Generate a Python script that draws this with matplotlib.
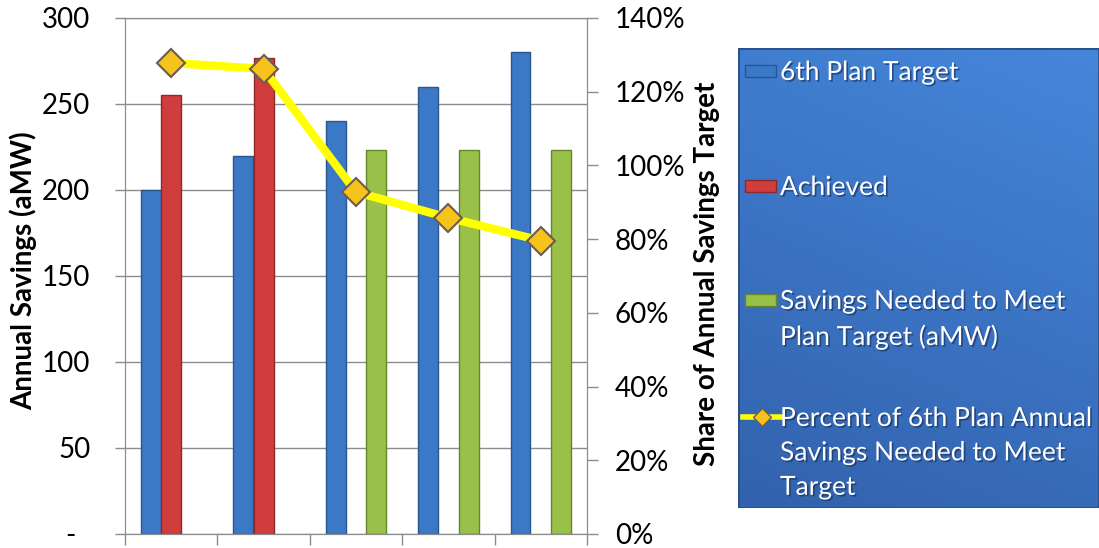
import matplotlib

matplotlib.use("Agg")

import matplotlib.pyplot as plt
import numpy as np
import matplotlib.patheffects as pe
from matplotlib.colors import LinearSegmentedColormap
from matplotlib.lines import Line2D
from matplotlib.patches import Rectangle
from matplotlib.ticker import FuncFormatter, MultipleLocator, PercentFormatter

plt.rcParams["font.family"] = ["Lato", "DejaVu Sans"]

# data
plan_target = [200, 220, 240, 260, 280]
achieved = [255, 277, np.nan, np.nan, np.nan]
needed = [np.nan, np.nan, 223, 223, 223]
pct_needed = [1.278, 1.262, 0.928, 0.858, 0.796]

series_labels = [
    "6th Plan Target",
    "Achieved",
    "Savings Needed to Meet\nPlan Target (aMW)",
    "Percent of 6th Plan Annual\nSavings Needed to Meet\nTarget",
]

BLUE, BLUE_EDGE = "#3b78c6", "#2a568f"
RED, RED_EDGE = "#cf3d3d", "#8c2a2a"
GREEN, GREEN_EDGE = "#99c14a", "#66862e"
GRID = "#8c8c8c"

W, H = 1099, 548
fig = plt.figure(figsize=(W / 100, H / 100), dpi=100)
ax = fig.add_axes([125 / W, 14 / H, 462 / W, 516 / H])

x = np.arange(len(plan_target))
bw = 0.215
ax.bar(x - 0.22, plan_target, bw, color=BLUE, edgecolor=BLUE_EDGE, lw=1, zorder=2)
ax.bar(x, achieved, bw, color=RED, edgecolor=RED_EDGE, lw=1, zorder=2)
ax.bar(x + 0.22, needed, bw, color=GREEN, edgecolor=GREEN_EDGE, lw=1, zorder=2)

ax.set_xlim(-0.5, len(x) - 0.5)
ax.set_ylim(0, 300)
ax.yaxis.set_major_locator(MultipleLocator(50))
ax.yaxis.set_major_formatter(FuncFormatter(lambda v, _: "-  " if v == 0 else f"{v:.0f}"))
ax.grid(axis="y", color=GRID, lw=1)
ax.set_axisbelow(True)
ax.set_xticks(np.arange(-0.5, len(x)), labels=[])
ax.tick_params(axis="x", length=8, color=GRID, width=1)
ax.tick_params(axis="y", length=7, color=GRID, width=1, labelsize=20, pad=18)
for side in ("left", "right", "bottom", "top"):
    ax.spines[side].set_color(GRID)
ax.set_ylabel("Annual Savings (aMW)", fontsize=20, fontweight="bold")
ax.yaxis.set_label_coords(-0.19, 0.51)

ax2 = ax.twinx()
ax2.plot(x, pct_needed, color="#ffff00", lw=6, marker="D", markersize=14,
         markerfacecolor="#f6c21c", markeredgecolor="#6e5c52", markeredgewidth=1.5,
         zorder=3)
ax2.set_ylim(0, 1.4)
ax2.yaxis.set_major_locator(MultipleLocator(0.2))
ax2.yaxis.set_major_formatter(PercentFormatter(1.0, decimals=0))
ax2.tick_params(axis="y", length=8, color=GRID, width=1, labelsize=20, pad=12)
for side in ("left", "right", "bottom", "top"):
    ax2.spines[side].set_color(GRID)
ax2.set_ylabel("Share of Annual Savings Target", fontsize=20, fontweight="bold")
ax2.yaxis.set_label_coords(1.232, 0.505)

# legend box with a blue gradient
lax = fig.add_axes([738 / W, 40 / H, 361 / W, 460 / H])
lax.set_xlim(0, 361)
lax.set_ylim(460, 0)
lax.axis("off")
gx, gy = np.meshgrid(np.linspace(0, 1, 60), np.linspace(0, 1, 60))
grad = 0.75 * gy + 0.25 * (1 - gx)
lax.imshow(grad, extent=(0, 361, 460, 0), aspect="auto", zorder=0,
           cmap=LinearSegmentedColormap.from_list("lg", ["#4586da", "#3262ad"]))
lax.add_patch(Rectangle((0, 0), 361, 460, fill=False, edgecolor="#2a4f88", lw=2, zorder=1))

text_y = [23, 138, 252, 369]
swatches = [(BLUE, BLUE_EDGE), (RED, RED_EDGE), (GREEN, GREEN_EDGE)]
for (fc, ec), ty in zip(swatches, text_y[:3]):
    lax.add_patch(Rectangle((7, ty - 6), 31, 12, facecolor=fc, edgecolor=ec, lw=1, zorder=2))
lax.add_line(Line2D([5, 42], [text_y[3], text_y[3]], color="#ffff00", lw=4, zorder=2))
lax.add_line(Line2D([23.5], [text_y[3]], marker="D", markersize=9, markerfacecolor="#f6c21c",
                    markeredgecolor="#6e5c52", markeredgewidth=1, zorder=3))
for label, ty in zip(series_labels, text_y):
    t = lax.text(42, ty - 11, label, color="white", fontsize=19, va="top", ha="left",
                 linespacing=1.47, zorder=4)
    t.set_path_effects([pe.SimplePatchShadow(offset=(1.2, -1.2), shadow_rgbFace="#1b3560", alpha=0.7),
                        pe.Normal()])

fig.savefig("out.png", dpi=100)
